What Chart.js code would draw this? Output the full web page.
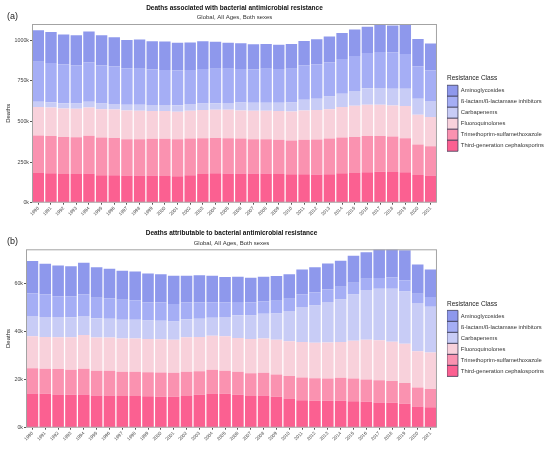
<!DOCTYPE html>
<html>
<head>
<meta charset="utf-8">
<script src="https://cdn.jsdelivr.net/npm/chart.js@4.4.0/dist/chart.umd.min.js"></script>
<style>
  body { margin: 0; background: #fff; }
  canvas { display: block; }
</style>
</head>
<body>
<canvas id="assocChart" width="550" height="222"></canvas>
<canvas id="attribChart" width="550" height="227"></canvas>
<script>
const years = ['1990', '1991', '1992', '1993', '1994', '1995', '1996', '1997', '1998', '1999',
  '2000', '2001', '2002', '2003', '2004', '2005', '2006', '2007', '2008', '2009',
  '2010', '2011', '2012', '2013', '2014', '2015', '2016', '2017', '2018', '2019',
  '2020', '2021'];

// bottom of the stack first
const classes = ['Third-generation cephalosporins', 'Trimethoprim-sulfamethoxazole', 'Fluoroquinolones',
  'Carbapenems', 'ß-lactam/ß-lactamase inhibitors', 'Aminoglycosides'];
const classColors = ['#fb6091', '#fa92b0', '#f8d1db', '#c8ccf6', '#a5aef5', '#8e98ec'];

// (a) deaths associated with resistance, thousands
const assocThirdGen = [183, 181, 177, 177, 179, 169, 169, 167, 167, 167, 165, 163, 169, 177, 181, 179,
  179, 179, 179, 177, 175, 175, 173, 175, 181, 183, 187, 191, 189, 187, 171, 167];
const assocTrimeth = [231, 229, 228, 226, 233, 232, 230, 224, 224, 226, 228, 228, 226, 220, 218, 218,
  216, 212, 212, 210, 208, 212, 216, 220, 220, 222, 223, 219, 218, 210, 187, 181];
const assocFluoro = [175, 176, 175, 175, 174, 175, 175, 177, 175, 171, 171, 169, 171, 173, 173, 175,
  173, 175, 175, 177, 179, 181, 181, 181, 188, 192, 193, 193, 192, 198, 183, 179];
const assocCarba = [32, 33, 32, 32, 36, 34, 34, 35, 37, 38, 37, 40, 41, 40, 40, 42,
  49, 49, 49, 51, 55, 66, 70, 78, 82, 90, 101, 103, 103, 107, 99, 99];
const assocBetaLactam = [247, 241, 238, 236, 242, 234, 230, 224, 222, 219, 216, 213, 210, 213, 213, 211,
  206, 206, 210, 208, 208, 212, 212, 210, 214, 216, 218, 222, 224, 214, 200, 187];
const assocAmino = [194, 190, 185, 185, 190, 187, 181, 175, 179, 173, 175, 171, 169, 171, 165, 159,
  159, 154, 152, 150, 152, 150, 154, 159, 160, 163, 161, 167, 165, 183, 168, 167];
const assocTicks = [0, 250, 500, 750, 1000];

// (b) deaths attributable to resistance, thousands
const attribThirdGen = [14.2, 14.1, 13.8, 13.7, 13.8, 13.4, 13.4, 13.1, 13.1, 13.0, 12.8, 12.8, 13.2, 13.7, 14.2, 14.1,
  13.7, 13.2, 13.4, 12.8, 12.1, 11.4, 11.2, 11.2, 11.2, 11.0, 10.8, 10.5, 10.3, 9.9, 8.8, 8.5];
const attribTrimeth = [10.5, 10.4, 10.5, 10.3, 10.7, 10.2, 10.2, 10.1, 10.1, 10.0, 10.1, 10.0, 10.0, 9.7, 9.8, 9.5,
  9.5, 9.4, 9.4, 9.3, 9.3, 9.4, 9.3, 9.2, 9.5, 9.4, 9.2, 9.2, 9.1, 8.6, 7.9, 7.6];
const attribFluoro = [13.2, 13.1, 13.2, 13.5, 14.0, 13.8, 13.8, 13.8, 13.8, 13.8, 13.8, 13.7, 14.3, 14.2, 14.1, 14.3,
  14.0, 14.2, 14.2, 14.4, 14.5, 14.8, 14.7, 14.9, 14.9, 15.7, 16.5, 16.6, 16.3, 16.3, 15.0, 15.1];
const attribCarba = [8.4, 8.3, 8.4, 8.3, 7.8, 8.0, 7.8, 7.8, 7.8, 7.7, 7.7, 7.6, 7.5, 7.6, 7.5, 8.0,
  9.4, 9.7, 10.3, 10.9, 12.5, 14.5, 15.5, 16.8, 17.6, 19.2, 20.6, 21.3, 21.9, 21.7, 20.0, 19.0];
const attribBetaLactam = [9.4, 9.3, 8.6, 8.7, 9.0, 8.5, 8.4, 8.3, 8.0, 7.5, 7.5, 7.2, 6.9, 6.7, 6.4, 6.0,
  5.5, 5.4, 5.1, 5.3, 5.1, 5.3, 5.4, 5.3, 5.3, 4.8, 4.7, 4.5, 4.7, 4.6, 3.9, 4.0];
const attribAmino = [13.4, 12.8, 12.8, 12.5, 13.1, 12.7, 12.3, 12.0, 12.0, 12.0, 11.8, 11.7, 11.1, 11.3, 11.0, 10.6,
  10.5, 10.3, 10.2, 10.2, 10.2, 10.2, 10.5, 10.7, 10.7, 11.2, 11.0, 11.8, 11.6, 12.5, 12.1, 11.4];
const attribTicks = [0, 20, 40, 60];

const FONT = '"Liberation Sans", Arial, sans-serif';
Chart.defaults.font.family = FONT;

// frame round the plot plus the (a)/(b) tag; also nudges the legend off the plot
const panelFrame = {
  id: 'panelFrame',
  afterLayout(chart, args, o) {
    const lg = chart.legend;
    lg.left += o.legendShift;
    lg.right += o.legendShift;
  },
  afterDatasetsDraw(chart, args, o) {
    const { ctx, chartArea: a } = chart;
    ctx.save();
    ctx.strokeStyle = '#a3a3a3';
    ctx.lineWidth = 1;
    ctx.strokeRect(a.left + 0.5, a.top + 0.5, a.right - a.left - 1, a.bottom - a.top - 1);
    ctx.fillStyle = '#222';
    ctx.font = '9px ' + FONT;
    ctx.textBaseline = 'middle';
    ctx.fillText(o.tag, o.tagX, o.tagY);
    ctx.restore();
  }
};

function buildChart(id, p) {
  const datasets = p.series.map((data, i) => ({
    label: classes[i],
    data: data,
    backgroundColor: classColors[i],
    borderWidth: 0,
    barPercentage: 0.9,
    categoryPercentage: 1.0
  }));

  return new Chart(document.getElementById(id), {
    type: 'bar',
    data: { labels: years, datasets: datasets },
    plugins: [panelFrame],
    options: {
      responsive: false,
      animation: false,
      layout: { padding: { left: 0, right: 6, top: 0, bottom: 0 } },
      scales: {
        x: {
          stacked: true,
          grid: { display: true, drawOnChartArea: false, offset: false, tickLength: 2, color: '#555' },
          border: { display: false },
          ticks: { autoSkip: false, minRotation: 45, maxRotation: 45, padding: 1,
                   font: { size: 4.6 }, color: '#444' },
          afterFit: s => { s.height = p.xHeight; }
        },
        y: {
          stacked: true,
          min: 0,
          max: p.yMax,
          grid: { display: true, drawOnChartArea: false, tickLength: 2, color: '#555' },
          border: { display: false },
          ticks: { padding: 1, font: { size: 5.3 }, color: '#444', callback: v => v + 'k' },
          afterBuildTicks: s => { s.ticks = p.ticks.map(v => ({ value: v })); },
          title: { display: true, text: 'Deaths', font: { size: 6 }, color: '#222', padding: { top: 5, bottom: 0 } },
          afterFit: s => { s.width = p.yWidth; }
        }
      },
      plugins: {
        title: {
          display: true, text: p.title, fullSize: false, color: '#111',
          font: { size: 6.5, weight: 'bold' }, padding: p.titlePad
        },
        subtitle: {
          display: true, text: 'Global, All Ages, Both sexes', fullSize: false, color: '#333',
          font: { size: 6 }, padding: p.subPad
        },
        legend: {
          position: 'right',
          fullSize: false,
          reverse: true,
          title: { display: true, text: 'Resistance Class', position: 'start', color: '#222',
                   font: { size: 6.5 }, padding: { top: 0, bottom: 2 } },
          labels: {
            boxWidth: 11, boxHeight: 11, padding: 0, color: '#333', font: { size: 5.8 },
            generateLabels: chart => Chart.defaults.plugins.legend.labels.generateLabels(chart)
              .map(item => Object.assign(item, { strokeStyle: '#3d3d58', lineWidth: 0.8 }))
          }
        },
        tooltip: { enabled: false },
        panelFrame: { tag: p.tag, tagX: 7, tagY: p.tagY, legendShift: 10 }
      }
    }
  });
}

buildChart('assocChart', {
  series: [assocThirdGen, assocTrimeth, assocFluoro, assocCarba, assocBetaLactam, assocAmino],
  ticks: assocTicks, yMax: 1100,
  title: 'Deaths associated with bacterial antimicrobial resistance',
  titlePad: { top: 4, bottom: 1 }, subPad: { top: 1, bottom: 3 },
  yWidth: 32, xHeight: 19.3, tag: '(a)', tagY: 17
});

buildChart('attribChart', {
  series: [attribThirdGen, attribTrimeth, attribFluoro, attribCarba, attribBetaLactam, attribAmino],
  ticks: attribTicks, yMax: 74,
  title: 'Deaths attributable to bacterial antimicrobial resistance',
  titlePad: { top: 7, bottom: 1 }, subPad: { top: 1.6, bottom: 2.7 },
  yWidth: 26, xHeight: 21.3, tag: '(b)', tagY: 20
});
</script>
</body>
</html>
